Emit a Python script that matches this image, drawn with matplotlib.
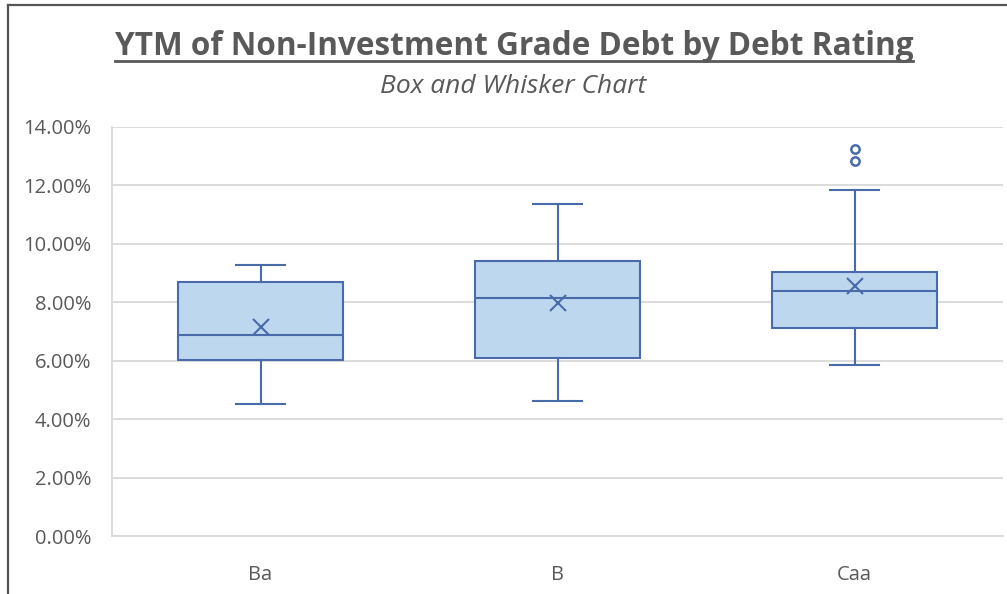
import matplotlib.pyplot as plt
from matplotlib.lines import Line2D
from matplotlib.ticker import FuncFormatter

# box statistics (yield to maturity, %)
ratings = ["Ba", "B", "Caa"]
whisker_low = [4.51, 4.62, 5.86]
q1 = [6.02, 6.10, 7.12]
median = [6.89, 8.15, 8.37]
mean = [7.16, 7.96, 8.56]
q3 = [8.69, 9.43, 9.05]
whisker_high = [9.26, 11.38, 11.85]
outliers = [[], [], [12.84, 13.26]]

y_ticks = [0, 2, 4, 6, 8, 10, 12, 14]

line_col = "#4A6BAA"
fill_col = "#BDD7EE"
text_col = "#595959"
grid_col = "#D9D9D9"

plt.rcParams['font.family'] = ['Open Sans', 'DejaVu Sans']

fig = plt.figure(figsize=(10.07, 5.94), dpi=100)
ax = fig.add_axes([0.1112, 0.0976, 0.885, 0.6886])

stats = []
for i in range(len(ratings)):
    stats.append({
        "label": ratings[i],
        "whislo": whisker_low[i],
        "q1": q1[i],
        "med": median[i],
        "mean": mean[i],
        "q3": q3[i],
        "whishi": whisker_high[i],
        "fliers": outliers[i],
    })

ax.bxp(stats, positions=[1, 2, 3], widths=0.555, capwidths=0.163,
       showmeans=True, patch_artist=True,
       boxprops=dict(facecolor=fill_col, edgecolor=line_col, linewidth=1.5),
       medianprops=dict(color=line_col, linewidth=1.5),
       whiskerprops=dict(color=line_col, linewidth=1.5),
       capprops=dict(color=line_col, linewidth=1.5),
       meanprops=dict(marker='x', markeredgecolor=line_col, markersize=12,
                      markeredgewidth=1.5),
       flierprops=dict(marker='o', markerfacecolor='none',
                       markeredgecolor=line_col, markersize=6,
                       markeredgewidth=1.8),
       zorder=3)

ax.set_xlim(0.5, 3.5)
ax.set_ylim(0, 14)
ax.set_yticks(y_ticks)
ax.yaxis.set_major_formatter(FuncFormatter(lambda v, p: "{:.2f}%".format(v)))
ax.grid(True, axis='y', color=grid_col, linewidth=1.3, zorder=0)
ax.set_axisbelow(True)

for side in ['top', 'right']:
    ax.spines[side].set_visible(False)
for side in ['left', 'bottom']:
    ax.spines[side].set_color(grid_col)
    ax.spines[side].set_linewidth(1.3)

ax.tick_params(axis='both', length=0, labelsize=14.5, colors=text_col)
ax.tick_params(axis='y', pad=15)
ax.tick_params(axis='x', pad=21)

title = fig.text(0.5105, 0.921, "YTM of Non-Investment Grade Debt by Debt Rating",
                 ha='center', va='center', fontsize=22.7, fontweight='bold',
                 color=text_col)
fig.text(0.5095, 0.855, "Box and Whisker Chart", ha='center', va='center',
         fontsize=19, style='italic', color=text_col)

# underline under the title
fig.canvas.draw()
bb = title.get_window_extent().transformed(fig.transFigure.inverted())
fig.add_artist(Line2D([bb.x0, bb.x1], [bb.y0 + 0.004, bb.y0 + 0.004],
                      color=text_col, linewidth=2))

# frame of the chart area
fig.add_artist(Line2D([0.008, 1.0], [0.9915, 0.9915], color="#555555", linewidth=1.6))
fig.add_artist(Line2D([0.008, 0.008], [0.0, 0.9915], color="#555555", linewidth=1.6))

fig.savefig("out.png", dpi=100)
